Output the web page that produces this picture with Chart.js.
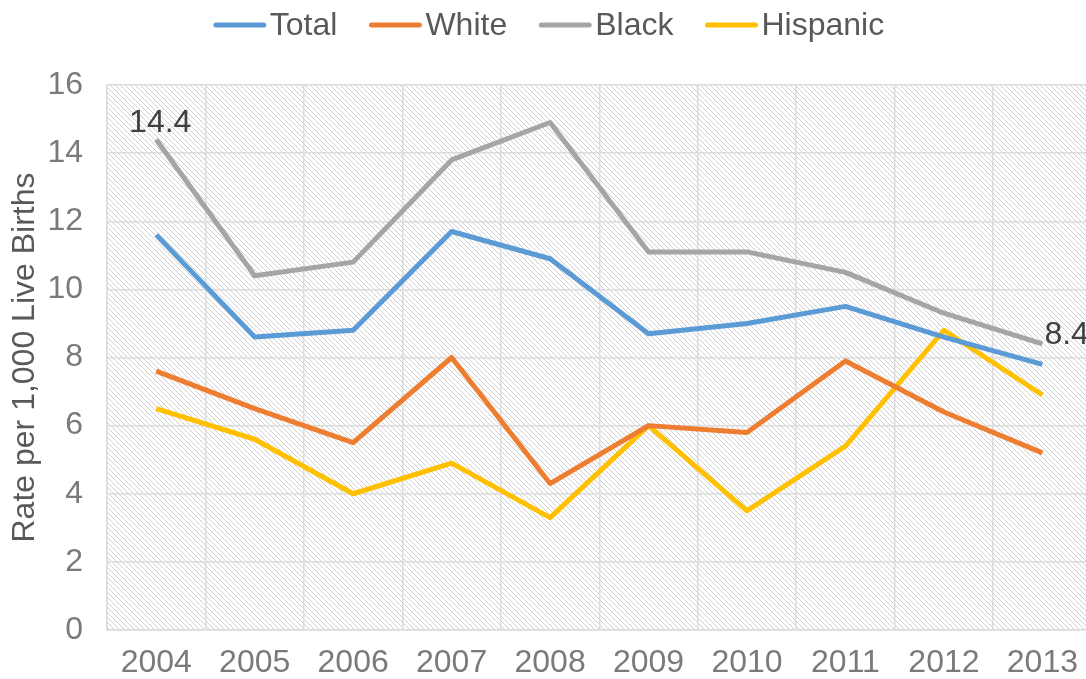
<!DOCTYPE html>
<html>
<head>
<meta charset="utf-8">
<script src="https://cdn.jsdelivr.net/npm/chart.js@4"></script>
<style>
  html, body { margin: 0; padding: 0; background: #fff; overflow: hidden; }
  #wrap { width: 1092px; height: 679px; }
</style>
</head>
<body>
<div id="wrap"><canvas id="chart" width="1092" height="679"></canvas></div>
<script>
'use strict';

var YEARS    = ['2004', '2005', '2006', '2007', '2008', '2009', '2010', '2011', '2012', '2013'];
var TOTAL    = [11.6, 8.6, 8.8, 11.7, 10.9, 8.7, 9.0, 9.5, 8.6, 7.8];
var WHITE    = [7.6, 6.5, 5.5, 8.0, 4.3, 6.0, 5.8, 7.9, 6.4, 5.2];
var BLACK    = [14.4, 10.4, 10.8, 13.8, 14.9, 11.1, 11.1, 10.5, 9.3, 8.4];
var HISPANIC = [6.5, 5.6, 4.0, 4.9, 3.3, 6.0, 3.5, 5.4, 8.8, 6.9];
var Y_TICKS  = [0, 2, 4, 6, 8, 10, 12, 14, 16];

var FONT = '"Liberation Sans", Arial, sans-serif';

// Diagonal hatch tile used behind the plot area
function hatchPattern(ctx) {
  var n = 5;
  var c = document.createElement('canvas');
  c.width = n; c.height = n;
  var g = c.getContext('2d');
  g.fillStyle = '#ffffff';
  g.fillRect(0, 0, n, n);
  g.fillStyle = '#d0d0d0';
  for (var i = 0; i < n; i++) g.fillRect(i, i, 1, 1);
  return ctx.createPattern(c, 'repeat');
}

var plotBackground = {
  id: 'plotBackground',
  beforeDraw: function (chart) {
    var ctx = chart.ctx, a = chart.chartArea;
    ctx.save();
    ctx.fillStyle = '#ffffff';
    ctx.fillRect(0, 0, chart.width, chart.height);
    ctx.fillStyle = hatchPattern(ctx);
    ctx.fillRect(a.left, a.top, a.right - a.left, a.bottom - a.top);
    ctx.restore();
  }
};

// Legend row across the top: short line swatch followed by the series name
var topLegend = {
  id: 'topLegend',
  afterDraw: function (chart) {
    var ctx = chart.ctx;
    var sets = chart.data.datasets;
    var sw = 52, gap = 4, spacing = 32, y = 25;
    ctx.save();
    ctx.font = '32px ' + FONT;
    var total = 0;
    sets.forEach(function (d, i) {
      total += sw + gap + ctx.measureText(d.label).width + (i ? spacing : 0);
    });
    var x = 549 - total / 2;
    ctx.textBaseline = 'middle';
    ctx.textAlign = 'left';
    sets.forEach(function (d) {
      ctx.strokeStyle = d.borderColor;
      ctx.lineWidth = 5;
      ctx.lineCap = 'round';
      ctx.beginPath();
      ctx.moveTo(x + 2, y);
      ctx.lineTo(x + sw - 2, y);
      ctx.stroke();
      x += sw + gap;
      ctx.fillStyle = '#595959';
      ctx.fillText(d.label, x, y + 1);
      x += ctx.measureText(d.label).width + spacing;
    });
    ctx.restore();
  }
};

// Value labels on the first and last Black points
var endLabels = {
  id: 'endLabels',
  afterDatasetsDraw: function (chart) {
    var ctx = chart.ctx;
    var meta = chart.getDatasetMeta(2);
    var ds = chart.data.datasets[2].data;
    var first = meta.data[0], last = meta.data[ds.length - 1];
    ctx.save();
    ctx.font = '32px ' + FONT;
    ctx.fillStyle = '#404040';
    ctx.textAlign = 'center';
    ctx.textBaseline = 'middle';
    ctx.fillText(ds[0].toFixed(1), first.x + 4, first.y - 16);
    ctx.textAlign = 'left';
    ctx.fillText(ds[ds.length - 1].toFixed(1), last.x + 2, last.y - 9);
    ctx.restore();
  }
};

function line(label, data, color) {
  return {
    label: label,
    data: data,
    borderColor: color,
    backgroundColor: color,
    borderWidth: 5,
    borderJoinStyle: 'round',
    pointRadius: 0,
    tension: 0,
    fill: false
  };
}

new Chart(document.getElementById('chart'), {
  type: 'line',
  data: {
    labels: YEARS,
    datasets: [
      line('Total', TOTAL, '#5b9bd5'),
      line('White', WHITE, '#ed7d31'),
      line('Black', BLACK, '#a5a5a5'),
      line('Hispanic', HISPANIC, '#ffc000')
    ]
  },
  options: {
    responsive: false,
    animation: false,
    layout: { padding: { top: 85, left: 0, right: 0, bottom: 0 } },
    plugins: {
      tooltip: { enabled: false },
      legend: { display: false }
    },
    scales: {
      x: {
        offset: true,
        grid: { offset: true, color: '#dcdcdc', lineWidth: 1.5, drawTicks: false },
        border: { color: '#dcdcdc', width: 1.5 },
        ticks: { color: '#7a7a7a', font: { family: FONT, size: 32 }, padding: 14, maxRotation: 0 },
        afterFit: function (s) { s.height = 49; }
      },
      y: {
        min: 0,
        max: 16,
        afterBuildTicks: function (s) { s.ticks = Y_TICKS.map(function (v) { return { value: v }; }); },
        grid: { color: '#dcdcdc', lineWidth: 1.5, drawTicks: false },
        border: { color: '#dcdcdc', width: 1.5 },
        ticks: { color: '#7a7a7a', font: { family: FONT, size: 32 }, padding: 24 },
        title: {
          display: true,
          text: 'Rate per 1,000 Live Births',
          color: '#595959',
          font: { family: FONT, size: 32 },
          padding: { top: 6, bottom: 0 }
        },
        afterFit: function (s) { s.width = 107; }
      }
    }
  },
  plugins: [plotBackground, topLegend, endLabels]
});
</script>
</body>
</html>
